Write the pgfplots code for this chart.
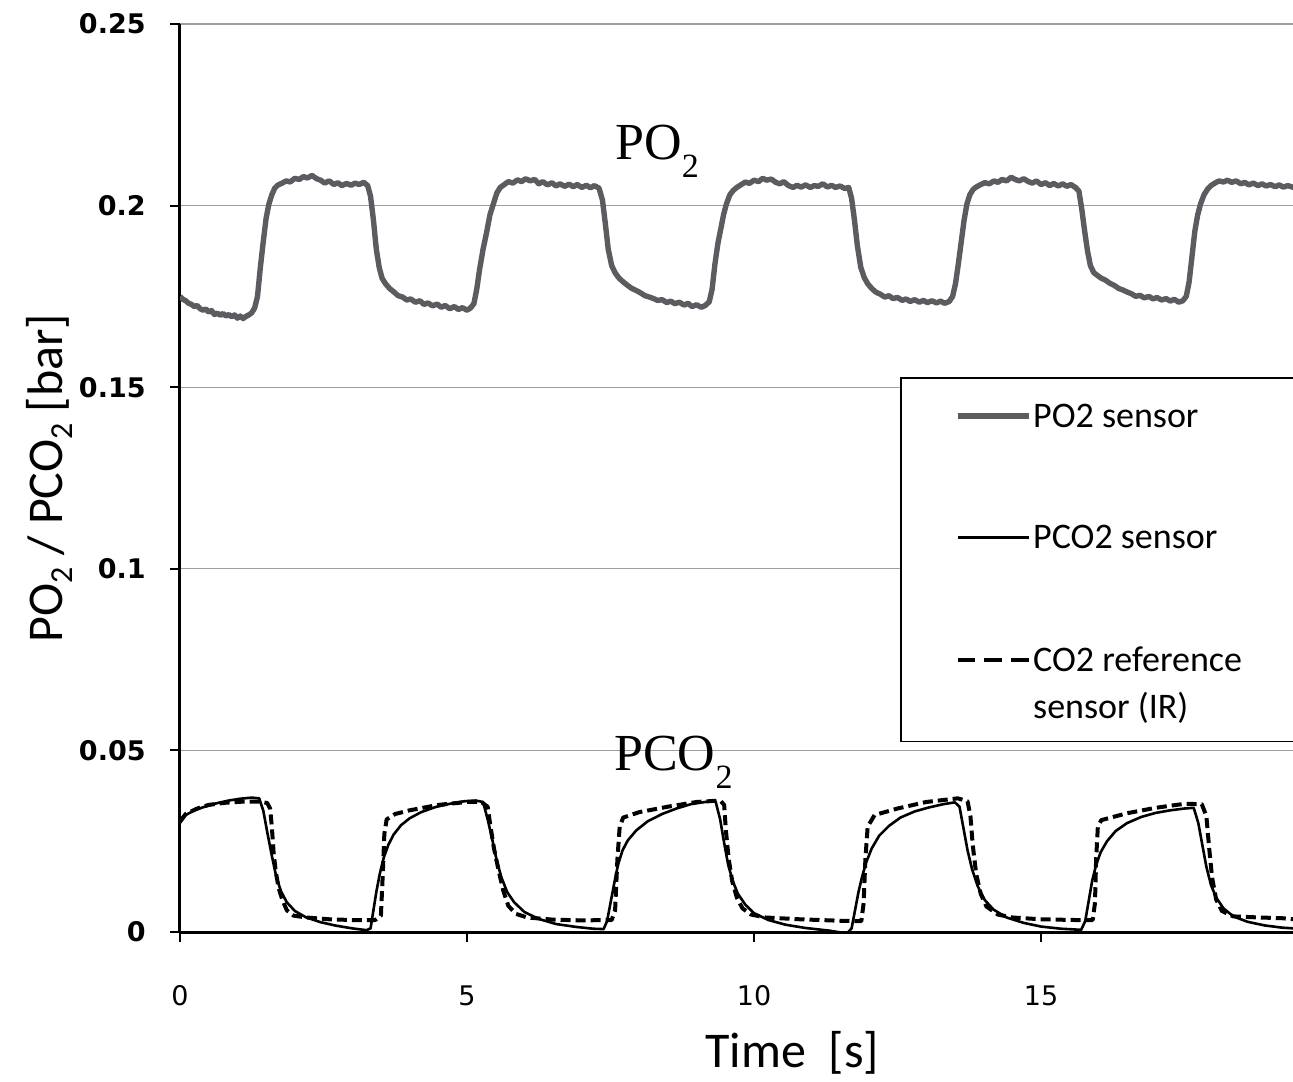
\documentclass[border=0pt]{standalone}
\usepackage{fontspec}
\setmainfont{Carlito}
\newfontfamily\dejavu{DejaVu Sans}
\newfontfamily\timesf{Liberation Serif}
\usepackage{pgfplots}
\usepackage{pgfplotstable}
\pgfplotsset{compat=1.18}
\definecolor{pogray}{HTML}{5A5C60}
\newcommand\lsub[1]{\raisebox{-0.2em}{\fontsize{16}{16}\selectfont #1}}
\pgfplotsset{refimg/.style={legend image code/.code={\draw[##1] (0pt,5.8pt) -- (35.5pt,5.8pt); \path (0pt,-25.5pt);}}}

\pgfplotstableread{
x y
0.00 0.1750
0.05 0.1742
0.10 0.1738
0.15 0.1731
0.20 0.1728
0.25 0.1722
0.30 0.1725
0.35 0.1716
0.40 0.1712
0.45 0.1715
0.50 0.1707
0.55 0.1711
0.60 0.1700
0.65 0.1704
0.70 0.1698
0.75 0.1703
0.80 0.1696
0.85 0.1700
0.90 0.1694
0.95 0.1699
1.00 0.1690
1.05 0.1696
1.10 0.1689
1.15 0.1695
1.20 0.1699
1.25 0.1705
1.30 0.1718
1.35 0.1750
1.40 0.1830
1.45 0.1900
1.50 0.1965
1.55 0.2005
1.60 0.2030
1.65 0.2048
1.70 0.2056
1.78 0.2062
1.85 0.2068
1.92 0.2065
2.00 0.2075
2.08 0.2072
2.15 0.2080
2.22 0.2076
2.30 0.2083
2.38 0.2074
2.45 0.2070
2.52 0.2062
2.60 0.2068
2.68 0.2058
2.75 0.2063
2.82 0.2055
2.90 0.2061
2.98 0.2056
3.05 0.2062
3.12 0.2058
3.20 0.2064
3.27 0.2055
3.32 0.2025
3.37 0.1960
3.42 0.1880
3.47 0.1830
3.52 0.1800
3.58 0.1785
3.65 0.1772
3.72 0.1763
3.80 0.1752
3.88 0.1748
3.95 0.1740
4.02 0.1743
4.10 0.1734
4.18 0.1738
4.25 0.1728
4.32 0.1732
4.40 0.1724
4.48 0.1729
4.55 0.1720
4.62 0.1725
4.70 0.1716
4.78 0.1722
4.85 0.1714
4.92 0.1719
5.00 0.1712
5.06 0.1718
5.12 0.1730
5.17 0.1770
5.22 0.1825
5.28 0.1880
5.34 0.1925
5.40 0.1975
5.46 0.2005
5.52 0.2035
5.58 0.2050
5.65 0.2058
5.72 0.2066
5.80 0.2062
5.88 0.2071
5.95 0.2066
6.02 0.2074
6.10 0.2068
6.18 0.2072
6.25 0.2060
6.32 0.2066
6.40 0.2057
6.48 0.2063
6.55 0.2054
6.62 0.2060
6.70 0.2053
6.78 0.2059
6.85 0.2052
6.92 0.2058
7.00 0.2050
7.08 0.2056
7.15 0.2049
7.22 0.2055
7.30 0.2048
7.36 0.2015
7.41 0.1950
7.46 0.1880
7.52 0.1835
7.58 0.1815
7.65 0.1800
7.72 0.1790
7.80 0.1780
7.87 0.1772
7.95 0.1766
8.02 0.1760
8.10 0.1752
8.18 0.1748
8.25 0.1744
8.32 0.1739
8.40 0.1741
8.48 0.1733
8.55 0.1737
8.62 0.1730
8.70 0.1734
8.78 0.1726
8.85 0.1731
8.92 0.1722
9.00 0.1727
9.08 0.1720
9.15 0.1725
9.22 0.1735
9.27 0.1770
9.32 0.1840
9.37 0.1895
9.42 0.1935
9.47 0.1975
9.52 0.2005
9.58 0.2030
9.64 0.2042
9.70 0.2050
9.78 0.2058
9.85 0.2065
9.92 0.2061
10.00 0.2070
10.08 0.2066
10.15 0.2075
10.22 0.2070
10.30 0.2073
10.38 0.2064
10.45 0.2060
10.52 0.2066
10.60 0.2055
10.68 0.2050
10.75 0.2056
10.82 0.2051
10.90 0.2057
10.98 0.2050
11.05 0.2055
11.12 0.2053
11.20 0.2060
11.28 0.2051
11.35 0.2056
11.42 0.2050
11.50 0.2054
11.58 0.2047
11.65 0.2050
11.70 0.2020
11.75 0.1960
11.80 0.1890
11.86 0.1830
11.92 0.1802
11.98 0.1785
12.05 0.1772
12.12 0.1762
12.20 0.1756
12.28 0.1748
12.35 0.1752
12.42 0.1744
12.50 0.1747
12.58 0.1739
12.65 0.1743
12.72 0.1736
12.80 0.1741
12.88 0.1734
12.95 0.1739
13.02 0.1733
13.10 0.1738
13.18 0.1732
13.25 0.1737
13.32 0.1731
13.40 0.1736
13.46 0.1750
13.51 0.1785
13.56 0.1840
13.61 0.1900
13.66 0.1960
13.71 0.2005
13.76 0.2030
13.82 0.2045
13.88 0.2052
13.95 0.2058
14.02 0.2063
14.10 0.2060
14.18 0.2068
14.25 0.2064
14.32 0.2072
14.40 0.2068
14.48 0.2078
14.55 0.2072
14.62 0.2068
14.70 0.2074
14.78 0.2066
14.85 0.2062
14.92 0.2068
15.00 0.2058
15.08 0.2063
15.15 0.2055
15.22 0.2061
15.30 0.2054
15.38 0.2060
15.45 0.2053
15.52 0.2058
15.60 0.2050
15.66 0.2040
15.71 0.1990
15.76 0.1930
15.81 0.1875
15.86 0.1835
15.92 0.1815
15.98 0.1808
16.05 0.1800
16.12 0.1795
16.20 0.1786
16.28 0.1780
16.35 0.1772
16.42 0.1768
16.50 0.1762
16.58 0.1757
16.65 0.1750
16.72 0.1753
16.80 0.1746
16.88 0.1750
16.95 0.1743
17.02 0.1747
17.10 0.1740
17.18 0.1744
17.25 0.1737
17.32 0.1742
17.40 0.1734
17.47 0.1738
17.53 0.1750
17.58 0.1790
17.63 0.1860
17.68 0.1930
17.73 0.1975
17.78 0.2005
17.84 0.2030
17.90 0.2045
17.96 0.2055
18.03 0.2062
18.10 0.2068
18.18 0.2065
18.25 0.2070
18.32 0.2064
18.40 0.2068
18.48 0.2060
18.55 0.2064
18.62 0.2057
18.70 0.2062
18.78 0.2055
18.85 0.2060
18.92 0.2054
19.00 0.2058
19.08 0.2052
19.15 0.2057
19.22 0.2051
19.30 0.2055
19.40 0.2050
}\poTwo

\pgfplotstableread{
x y
0.00 0.0300
0.10 0.0322
0.25 0.0335
0.45 0.0346
0.65 0.0355
0.85 0.0362
1.05 0.0367
1.25 0.0370
1.38 0.0368
1.45 0.0335
1.52 0.0275
1.60 0.0210
1.68 0.0150
1.76 0.0112
1.86 0.0082
2.00 0.0058
2.20 0.0040
2.45 0.0027
2.70 0.0018
3.00 0.0010
3.25 0.0005
3.32 0.0010
3.37 0.0060
3.42 0.0110
3.48 0.0160
3.55 0.0205
3.63 0.0240
3.72 0.0268
3.85 0.0294
4.00 0.0313
4.20 0.0330
4.45 0.0344
4.70 0.0353
4.95 0.0360
5.15 0.0362
5.28 0.0358
5.36 0.0310
5.44 0.0255
5.52 0.0195
5.60 0.0150
5.70 0.0110
5.82 0.0082
6.00 0.0055
6.25 0.0036
6.55 0.0022
6.90 0.0014
7.20 0.0009
7.38 0.0008
7.44 0.0030
7.50 0.0080
7.56 0.0130
7.63 0.0185
7.71 0.0225
7.80 0.0252
7.95 0.0280
8.15 0.0305
8.40 0.0325
8.65 0.0340
8.90 0.0352
9.15 0.0358
9.33 0.0360
9.41 0.0310
9.48 0.0245
9.55 0.0185
9.63 0.0140
9.72 0.0105
9.85 0.0075
10.00 0.0052
10.25 0.0033
10.55 0.0020
10.90 0.0011
11.30 0.0004
11.62 -0.0004
11.70 0.0010
11.76 0.0060
11.82 0.0110
11.88 0.0150
11.95 0.0190
12.05 0.0230
12.18 0.0265
12.35 0.0292
12.55 0.0315
12.80 0.0332
13.05 0.0343
13.30 0.0352
13.50 0.0357
13.58 0.0345
13.65 0.0285
13.72 0.0225
13.80 0.0172
13.90 0.0125
14.02 0.0088
14.17 0.0062
14.40 0.0040
14.70 0.0025
15.00 0.0015
15.35 0.0009
15.70 0.0006
15.77 0.0030
15.83 0.0085
15.89 0.0140
15.96 0.0185
16.04 0.0220
16.15 0.0250
16.30 0.0278
16.50 0.0300
16.75 0.0317
17.00 0.0328
17.25 0.0335
17.50 0.0340
17.66 0.0342
17.74 0.0300
17.81 0.0240
17.88 0.0180
17.96 0.0130
18.05 0.0095
18.18 0.0065
18.35 0.0043
18.60 0.0028
18.90 0.0018
19.20 0.0012
19.40 0.0010
}\pcoTwo

\pgfplotstableread{
x y
0.00 0.0305
0.10 0.0325
0.30 0.0340
0.50 0.0350
0.80 0.0356
1.10 0.0359
1.40 0.0359
1.52 0.0355
1.57 0.0340
1.60 0.0290
1.63 0.0220
1.67 0.0165
1.72 0.0120
1.78 0.0090
1.86 0.0060
1.98 0.0045
2.20 0.0040
2.60 0.0035
3.00 0.0033
3.40 0.0033
3.50 0.0045
3.53 0.0150
3.56 0.0270
3.60 0.0310
3.75 0.0325
4.00 0.0335
4.50 0.0350
5.00 0.0358
5.25 0.0358
5.36 0.0345
5.41 0.0290
5.47 0.0230
5.55 0.0170
5.63 0.0115
5.72 0.0072
5.85 0.0050
6.05 0.0040
6.50 0.0034
7.00 0.0032
7.52 0.0033
7.58 0.0060
7.62 0.0200
7.66 0.0290
7.72 0.0315
8.00 0.0330
8.50 0.0345
9.00 0.0358
9.41 0.0362
9.48 0.0350
9.51 0.0280
9.56 0.0200
9.62 0.0140
9.70 0.0095
9.80 0.0065
9.95 0.0048
10.20 0.0040
10.80 0.0035
11.50 0.0031
11.87 0.0030
11.91 0.0080
11.94 0.0200
11.98 0.0290
12.10 0.0322
12.50 0.0340
13.00 0.0358
13.55 0.0368
13.72 0.0360
13.77 0.0320
13.81 0.0240
13.87 0.0160
13.95 0.0105
14.05 0.0070
14.25 0.0048
14.50 0.0040
15.00 0.0035
15.60 0.0033
15.90 0.0033
15.94 0.0080
15.96 0.0200
15.99 0.0290
16.05 0.0308
16.50 0.0327
17.00 0.0342
17.50 0.0353
17.80 0.0352
17.88 0.0320
17.93 0.0230
17.98 0.0150
18.05 0.0090
18.15 0.0058
18.35 0.0043
18.80 0.0040
19.20 0.0038
19.40 0.0035
}\coRef

\begin{document}
\begin{tikzpicture}
\begin{axis}[
  name=ax,
  scale only axis,
  width=556.5pt, height=454pt,
  xmin=0, xmax=19.39,
  ymin=0, ymax=0.25,
  axis x line=bottom, axis y line=left,
  axis line style={-, black, line width=1.5pt},
  xtick={0,5,10,15}, xticklabels={0,5,10,15},
  ytick={0,0.05,0.1,0.15,0.2,0.25},
  yticklabels={0,0.05,0.1,0.15,0.2,0.25},
  minor tick num=0,
  tick align=outside,
  major tick length=5pt,
  tick style={black, line width=1pt},
  ymajorgrids,
  grid style={draw=black!38, line width=0.6pt},
  /pgf/number format/assume math mode=true,
  yticklabel style={font=\dejavu\bfseries\fontsize{13.5}{16}\selectfont, inner sep=0pt, anchor=east, xshift=-12pt},
  xticklabel style={font=\dejavu\fontsize{13.5}{16}\selectfont, inner sep=0pt, anchor=north, yshift=-21.5pt},
  label style={font=\fontsize{25}{30}\selectfont},
  xlabel={Time~~[s]},
  xlabel style={at={(axis description cs:0.55,-0.149)}, anchor=base},
  ylabel={PO\lsub{2} / PCO\lsub{2} [bar]},
  ylabel style={at={(axis description cs:-0.106,0.5)}, anchor=base, rotate=0},
  legend image code/.code={\draw[#1] (0pt,5.8pt) -- (35.5pt,5.8pt);},
  legend cell align=left,
  legend style={at={(axis description cs:0.6469,0.6112)}, anchor=north west,
    draw=black, line width=0.8pt, fill=white,
    inner xsep=27pt, inner ysep=8.5pt, row sep=47.5pt, column sep=1pt,
    nodes={anchor=base west, inner sep=0pt, font=\fontsize{18}{21.6}\selectfont}},
]
\addplot[pogray, line width=2.7pt, line join=round] table[x=x,y=y] {\poTwo};
\addlegendentry{\makebox[125pt][l]{\rule{0pt}{16.4pt}PO2 sensor}}
\addplot[black, line width=1.3pt, line join=round] table[x=x,y=y] {\pcoTwo};
\addlegendentry{\makebox[125pt][l]{PCO2 sensor}}
\addplot[black, line width=2pt, dash pattern=on 5pt off 2.5pt, line join=round, forget plot] table[x=x,y=y] {\coRef};
\addlegendimage{refimg, black, line width=2pt, dash pattern=on 8.7pt off 4.7pt}
\addlegendentry{\makebox[125pt][l]{\vtop{\baselineskip=23.5pt \hbox{CO2 reference}\hbox{sensor (IR)}}}}
\node[anchor=base west, inner sep=0pt, font=\timesf\fontsize{26}{30}\selectfont] at (axis cs:7.58,0.2126) {PO\raisebox{-9pt}{\fontsize{17}{17}\selectfont 2}};
\node[anchor=base west, inner sep=0pt, font=\timesf\fontsize{26}{30}\selectfont] at (axis cs:7.56,0.0446) {PCO\raisebox{-9pt}{\fontsize{17}{17}\selectfont 2}};
\end{axis}
\pgfresetboundingbox
\path[use as bounding box] ([shift={(-90pt,-74.5pt)}]ax.south west) rectangle ([shift={(0pt,12pt)}]ax.north east);
\end{tikzpicture}
\end{document}
